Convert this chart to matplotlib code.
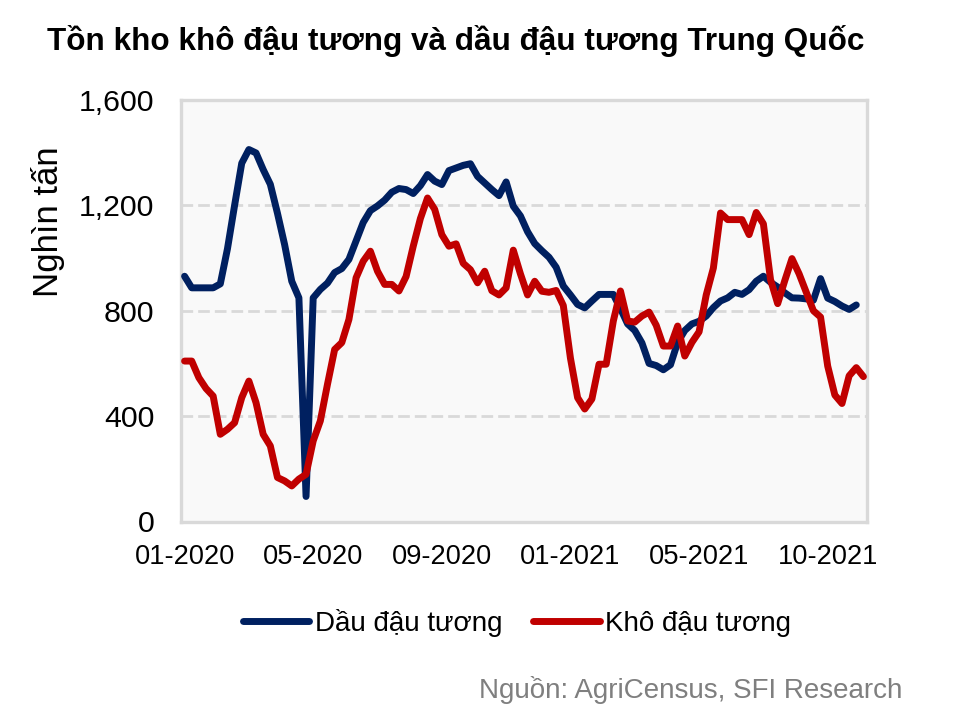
import numpy as np
import matplotlib
matplotlib.use("Agg")
import matplotlib.pyplot as plt
from matplotlib.ticker import FuncFormatter, FixedLocator

plt.rcParams['font.family'] = ['Liberation Sans', 'DejaVu Sans']

title = "Tồn kho khô đậu tương và dầu đậu tương Trung Quốc"
ylabel = "Nghìn tấn"
source = "Nguồn: AgriCensus, SFI Research"
series_names = ["Dầu đậu tương", "Khô đậu tương"]
tick_labels = ["01-2020", "05-2020", "09-2020", "01-2021", "05-2021", "10-2021"]
tick_every = 18
n_categories = 96

# Weekly stocks (thousand tonnes)
dau = [931, 887, 887, 887, 887, 902, 1035, 1200, 1360, 1412,
       1399, 1336, 1280, 1170, 1051, 912, 849, 95, 849, 881,
       905, 945, 960, 995, 1065, 1135, 1180, 1198, 1220, 1250,
       1264, 1260, 1245, 1275, 1317, 1292, 1279, 1332, 1342, 1352,
       1358, 1310, 1285, 1260, 1237, 1289, 1197, 1160, 1100, 1055,
       1028, 1003, 965, 894, 860, 824, 811, 837, 862, 862,
       862, 808, 750, 725, 678, 600, 592, 576, 595, 680,
       725, 750, 760, 780, 812, 837, 849, 870, 862, 880,
       912, 931, 908, 890, 868, 849, 848, 845, 840, 922,
       848, 835, 818, 805, 822]

kho = [609, 609, 546, 505, 476, 331, 350, 375, 470, 533,
       451, 331, 287, 167, 154, 135, 161, 179, 306, 382,
       521, 653, 679, 767, 925, 988, 1026, 950, 900, 900,
       875, 930, 1045, 1150, 1228, 1185, 1089, 1045, 1054, 980,
       956, 906, 950, 876, 860, 887, 1030, 940, 860, 912,
       874, 870, 877, 820, 620, 470, 427, 465, 597, 597,
       761, 875, 761, 757, 780, 795, 745, 666, 666, 742,
       628, 680, 720, 860, 962, 1171, 1146, 1146, 1146, 1089,
       1173, 1130, 918, 827, 915, 998, 940, 870, 800, 776,
       590, 480, 448, 553, 584, 550]

W, H = 958, 716
fig = plt.figure(figsize=(W / 100, H / 100), dpi=100)
fig.patch.set_facecolor('white')

ax = fig.add_axes([181 / W, 1 - 521.5 / H, 686 / W, 421.5 / H])
ax.set_facecolor('#f9f9f9')
for sp in ax.spines.values():
    sp.set_color('#d9d9d9')
    sp.set_linewidth(2.4)

ax.yaxis.grid(True, color='#d9d9d9', linestyle=(0, (4.2, 1.8)), linewidth=2.0, zorder=1)
ax.set_axisbelow(True)

ax.plot(np.arange(len(dau)), dau, color='#002060', lw=5.0,
        solid_joinstyle='round', solid_capstyle='round', label=series_names[0], zorder=3)
ax.plot(np.arange(len(kho)), kho, color='#c00000', lw=5.0,
        solid_joinstyle='round', solid_capstyle='round', label=series_names[1], zorder=4)

ax.set_xlim(-0.5, n_categories - 0.5)
ax.set_ylim(0, 1600)
ax.yaxis.set_major_locator(FixedLocator([0, 400, 800, 1200, 1600]))
ax.yaxis.set_major_formatter(FuncFormatter(lambda v, p: f"{v:,.0f}"))
ax.set_xticks(np.arange(0, n_categories, tick_every))
ax.set_xticklabels(tick_labels)
ax.tick_params(axis='y', length=0, pad=19, labelsize=21.8, colors='black')
ax.tick_params(axis='x', length=0, pad=16, labelsize=19.6, colors='black')

fig.text(47 / W, 1 - 50 / H, title, fontsize=22.7, fontweight='bold', ha='left', va='baseline')
fig.text(48 / W, 1 - 222 / H, ylabel, fontsize=25, rotation=90, ha='center', va='center')
fig.text(902 / W, 1 - 698 / H, source, fontsize=20, color='#7f7f7f', ha='right', va='baseline')

fig.legend(loc='center', bbox_to_anchor=(517 / W, 1 - 623 / H), ncol=2, frameon=False,
           fontsize=20, handlelength=2.4, handletextpad=0.2, columnspacing=1.1)

fig.savefig('out.png', dpi=100)
